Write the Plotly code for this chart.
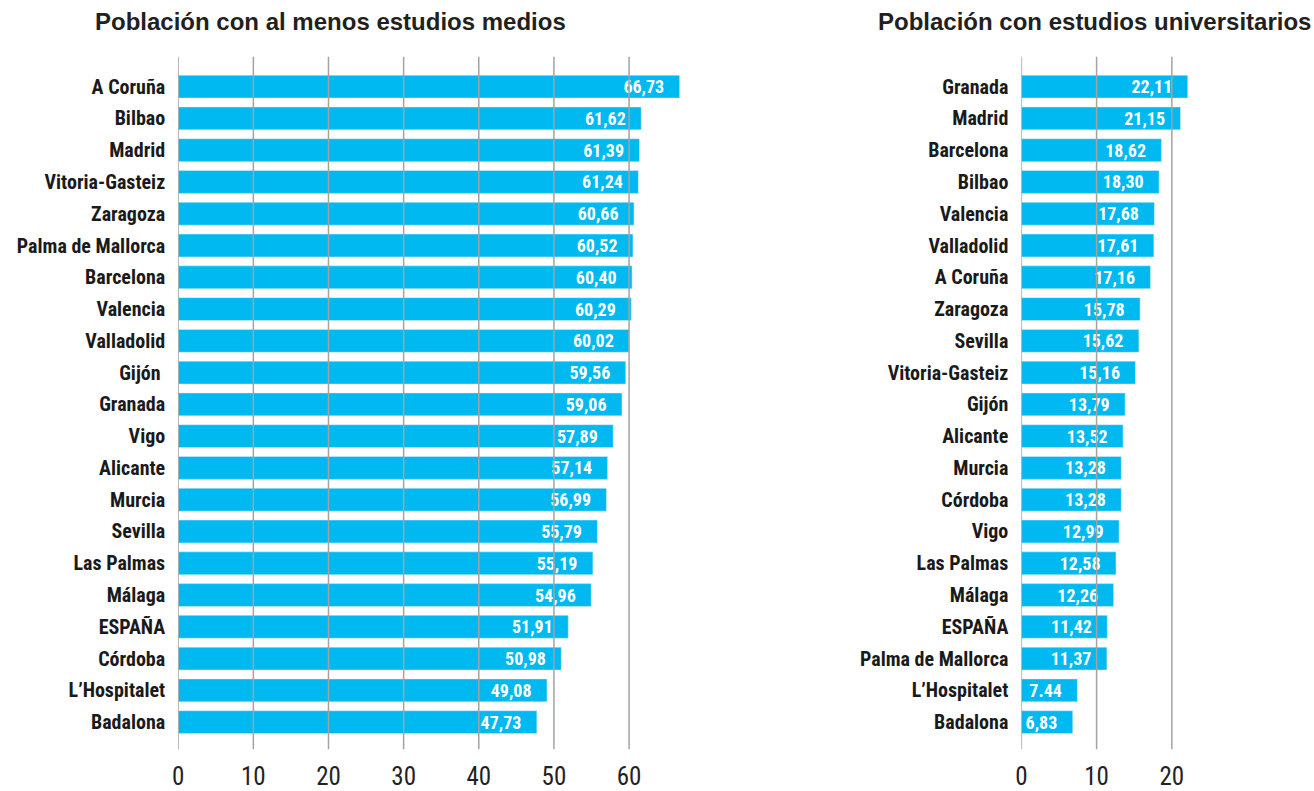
import plotly.graph_objects as go

# ---- data ----
cities_medios = ["A Coruña", "Bilbao", "Madrid", "Vitoria-Gasteiz", "Zaragoza", "Palma de Mallorca",
                 "Barcelona", "Valencia", "Valladolid", "Gijón\u00a0", "Granada", "Vigo", "Alicante",
                 "Murcia", "Sevilla", "Las Palmas", "Málaga", "ESPAÑA", "Córdoba", "L’Hospitalet", "Badalona"]
values_medios = [66.73, 61.62, 61.39, 61.24, 60.66, 60.52, 60.40, 60.29, 60.02, 59.56, 59.06,
                 57.89, 57.14, 56.99, 55.79, 55.19, 54.96, 51.91, 50.98, 49.08, 47.73]
labels_medios = ["66,73", "61,62", "61,39", "61,24", "60,66", "60,52", "60,40", "60,29", "60,02",
                 "59,56", "59,06", "57,89", "57,14", "56,99", "55,79", "55,19", "54,96", "51,91",
                 "50,98", "49,08", "47,73"]

cities_univ = ["Granada", "Madrid", "Barcelona", "Bilbao", "Valencia", "Valladolid", "A Coruña",
               "Zaragoza", "Sevilla", "Vitoria-Gasteiz", "Gijón", "Alicante", "Murcia", "Córdoba",
               "Vigo", "Las Palmas", "Málaga", "ESPAÑA", "Palma de Mallorca", "L’Hospitalet", "Badalona"]
values_univ = [22.11, 21.15, 18.62, 18.30, 17.68, 17.61, 17.16, 15.78, 15.62, 15.16, 13.79, 13.52,
               13.28, 13.28, 12.99, 12.58, 12.26, 11.42, 11.37, 7.44, 6.83]
labels_univ = ["22,11", "21,15", "18,62", "18,30", "17,68", "17,61", "17,16", "15,78", "15,62",
               "15,16", "13,79", "13,52", "13,28", "13,28", "12,99", "12,58", "12,26", "11,42",
               "11,37", "7.44", "6,83"]

ticks_medios = [0, 10, 20, 30, 40, 50, 60]
ticks_univ = [0, 10, 20]

title_medios = "Población con al menos estudios medios"
title_univ = "Población con estudios universitarios"

# ---- style ----
BAR = "#00B9F1"
GRID = "#A3A3A3"
NARROW = "Liberation Sans Narrow, Arial Narrow, Roboto Condensed, Liberation Sans, Arial, sans-serif"
W, H = 1314, 791
ytop, ybot = 57, 752
ydom = [1 - ybot / H, 1 - ytop / H]

fig = go.Figure()
pad = "\u00a0\u00a0\u00a0"
fig.add_trace(go.Bar(
    x=values_medios, y=cities_medios, orientation="h", marker_color=BAR,
    text=[l + pad for l in labels_medios], textposition="inside", insidetextanchor="end",
    constraintext="none",
    textfont=dict(family=NARROW, size=18, color="white", weight="bold"),
    cliponaxis=False, xaxis="x", yaxis="y", hoverinfo="x+y"))
fig.add_trace(go.Bar(
    x=values_univ, y=cities_univ, orientation="h", marker_color=BAR,
    text=[l + pad for l in labels_univ], textposition="inside", insidetextanchor="end",
    constraintext="none",
    textfont=dict(family=NARROW, size=18, color="white", weight="bold"),
    cliponaxis=False, xaxis="x2", yaxis="y2", hoverinfo="x+y"))

n = len(cities_medios)
yrange = [n - 1 + 0.85, -0.94]

common_x = dict(showgrid=False, zeroline=False, showline=False, ticks="",
                tickfont=dict(family=NARROW, size=25, color="#222222"), ticklabelstandoff=10)
common_y = dict(showgrid=False, zeroline=False, showline=False, ticks="",
                tickfont=dict(family=NARROW, size=20, color="#1a1a1a", weight="bold"),
                ticklabelstandoff=12, domain=ydom, range=yrange, type="category")

TITLE_FONT = dict(family="Liberation Sans, Arial, sans-serif", size=24, color="#231f20", weight="bold")

fig.update_layout(
    width=W, height=H, margin=dict(l=0, r=0, t=0, b=0),
    paper_bgcolor="white", plot_bgcolor="white", showlegend=False,
    bargap=0.28, uniformtext=dict(mode=False),
    xaxis=dict(domain=[173 / W, 678 / W], range=[0, 66.9], tickvals=ticks_medios, anchor="y", **common_x),
    yaxis=dict(anchor="x", **common_y),
    xaxis2=dict(domain=[1020 / W, 1209 / W], range=[0, 25], tickvals=ticks_univ, anchor="y2", **common_x),
    yaxis2=dict(anchor="x2", **common_y),
    annotations=[
        dict(text=title_medios, x=326 / W, y=1 - 22 / H, xref="paper", yref="paper",
             xanchor="center", yanchor="middle", showarrow=False, font=TITLE_FONT),
        dict(text=title_univ, x=1093 / W, y=1 - 22 / H, xref="paper", yref="paper",
             xanchor="center", yanchor="middle", showarrow=False, font=TITLE_FONT),
    ],
)

shapes = []
for t in ticks_medios:
    shapes.append(dict(type="line", xref="x", yref="y domain", x0=t, x1=t, y0=0, y1=1,
                       line=dict(color=GRID, width=1.5), layer="above"))
for t in ticks_univ:
    shapes.append(dict(type="line", xref="x2", yref="y2 domain", x0=t, x1=t, y0=0, y1=1,
                       line=dict(color=GRID, width=1.5), layer="above"))
fig.update_layout(shapes=shapes)

fig.write_html("out.html", config={"displayModeBar": False},
               post_script="document.body.style.margin='0';document.body.style.overflow='hidden';")
